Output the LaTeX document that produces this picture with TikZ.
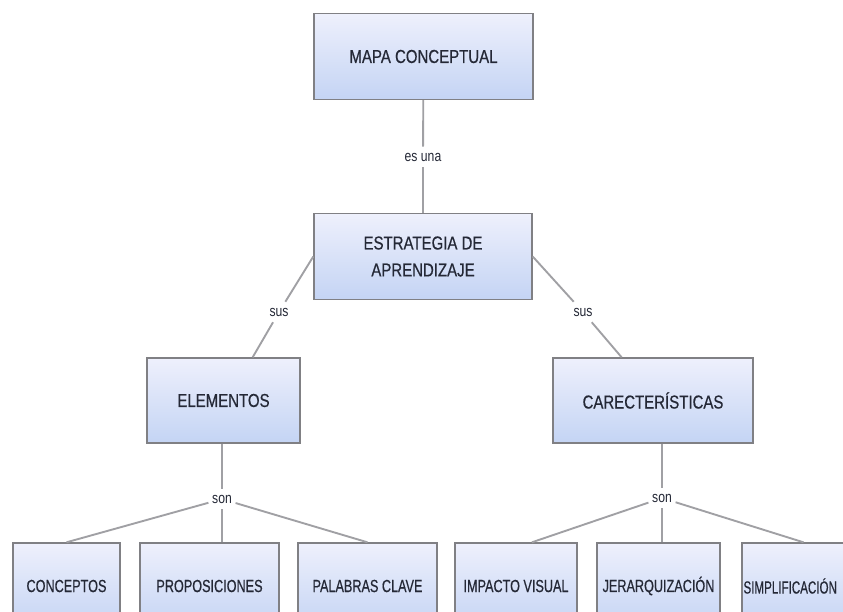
\documentclass[tikz,border=0pt]{standalone}
\usepackage{fontspec}
\setmainfont{Liberation Sans}[FakeStretch=0.8]
\newfontfamily\boxfont{Liberation Sans}[FakeStretch=0.8, FakeBold=0.5]
\newfontfamily\leaffont{Liberation Sans}[FakeStretch=0.72, FakeBold=0.5]
\newfontfamily\edgefont{Liberation Sans}[FakeStretch=0.66, FakeBold=0.5]
\definecolor{boxtop}{RGB}{238,240,252}
\definecolor{boxbot}{RGB}{196,212,244}
\definecolor{boxline}{RGB}{128,128,132}
\definecolor{linkline}{RGB}{160,160,164}
\definecolor{ink}{RGB}{36,40,54}
\tikzset{
  concept/.style={draw=boxline, line width=1.2pt, top color=boxtop, bottom color=boxbot,
    text=ink, font=\boxfont\fontsize{16}{23}\selectfont, align=center,
    minimum height=2.58cm, inner sep=0pt},
  leaf/.style={concept, font=\leaffont\fontsize{15}{18}\selectfont},
  linkword/.style={fill=white, text=ink, font=\fontsize{13}{15}\selectfont,
    inner xsep=3pt, inner ysep=5pt},
  link/.style={draw=linkline, line width=1.6pt}
}
\begin{document}
\begin{tikzpicture}[x=0.03cm, y=-0.03cm]
      \clip (0,0) rectangle (843,611);
      \fill[white] (0,0) rectangle (843,611);
      \draw
        (423.5,56.5) node[concept, minimum width=6.57cm] (mapa){MAPA CONCEPTUAL}
        (423,256.5) node[concept, minimum width=6.54cm] (estrategia){ESTRATEGIA DE\\APRENDIZAJE}
        (223.5,400.5) node[concept, minimum width=4.59cm, minimum height=2.55cm] (elementos){ELEMENTOS}
        (653,400.5) node[concept, minimum width=6.0cm, minimum height=2.55cm] (caract){CARECTERÍSTICAS}
        (66.5,586) node[leaf, minimum width=3.21cm] (conceptos){CONCEPTOS}
        (209.5,586) node[leaf, minimum width=4.17cm] (proposiciones){PROPOSICIONES}
        (367.5,586) node[leaf, minimum width=4.17cm] (palabras){PALABRAS CLAVE}
        (516,586) node[leaf, minimum width=3.66cm] (impacto){IMPACTO VISUAL}
        (658.5,586) node[leaf, minimum width=3.69cm] (jerarq){JERARQUIZACIÓN}
        (803.5,586) node[leaf, font=\edgefont\fontsize{15}{18}\selectfont, minimum width=3.69cm,
          text width=3.6cm, align=left] (simplif){SIMPLIFICACIÓN};
      \draw
        (423,157) node[linkword] (esuna){es una}
        (279,312) node[linkword] (sus1){sus}
        (583,312) node[linkword] (sus2){sus}
        (222,499) node[linkword] (son1){son}
        (662,498) node[linkword] (son2){son};
      \begin{scope}[link]
        \draw (mapa) to (esuna);
        \draw (esuna) to (estrategia);
        \draw (estrategia.west) to (sus1);
        \draw (sus1) to (elementos.56);
        \draw (estrategia.east) to (sus2);
        \draw (sus2) to (caract.126);
        \draw (elementos.south -| son1) to (son1);
        \draw (son1) to (conceptos.north);
        \draw (son1) to (son1 |- proposiciones.north);
        \draw (son1) to (palabras.north);
        \draw (caract.south -| son2) to (son2);
        \draw (son2) to (impacto.70);
        \draw (son2) to (son2 |- jerarq.north);
        \draw (son2) to (simplif.north);
      \end{scope}
    \end{tikzpicture}
\end{document}
